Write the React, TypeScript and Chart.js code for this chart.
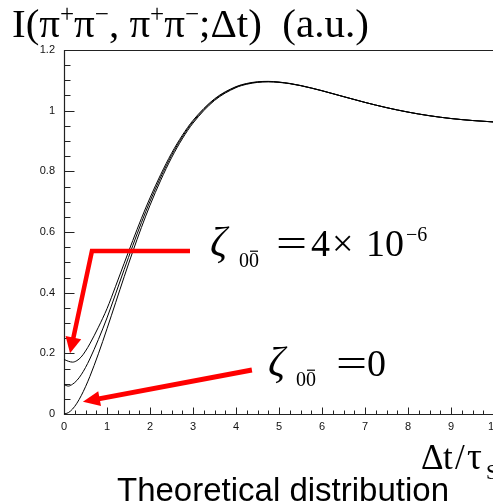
import { useEffect, useRef } from "react";
import { Chart, registerables } from "chart.js";

Chart.register(...registerables);

// Δt/τS sample points
const T = [0, 0.1, 0.2, 0.3, 0.4, 0.5, 0.6, 0.8, 1.0, 1.2, 1.4, 1.6, 1.8, 2.0, 2.25, 2.5, 2.75, 3.0, 3.5, 4.0, 4.25, 4.5, 4.75, 5.0, 5.25, 5.5, 6.0, 6.5, 7.0, 7.5, 8.0, 8.5, 9.0, 9.5, 10];
// ζ = 0 curve
const ZETA_ZERO = [0, 0.0043, 0.0165, 0.0355, 0.0603, 0.0898, 0.1231, 0.1985, 0.2811, 0.3668, 0.4526, 0.5358, 0.6148, 0.6882, 0.7709, 0.8445, 0.907, 0.9589, 1.0336, 1.076, 1.0871, 1.0932, 1.095, 1.0932, 1.0889, 1.0824, 1.0655, 1.0462, 1.0272, 1.01, 0.9953, 0.9833, 0.9741, 0.9675, 0.9627];
// intermediate ζ curve
const ZETA_MID = [0.097, 0.092, 0.0983, 0.1107, 0.1293, 0.1532, 0.1813, 0.2457, 0.3168, 0.396, 0.4765, 0.5554, 0.6308, 0.7013, 0.7811, 0.8525, 0.9132, 0.9637, 1.0365, 1.0778, 1.0885, 1.0943, 1.0958, 1.0939, 1.0894, 1.0828, 1.0657, 1.0463, 1.0272, 1.01, 0.9953, 0.9833, 0.9741, 0.9675, 0.9627];
// ζ = 4×10⁻⁶ curve
const ZETA_TOP = [0.18, 0.174, 0.171, 0.176, 0.188, 0.2075, 0.2312, 0.2861, 0.3473, 0.421, 0.497, 0.5721, 0.6446, 0.7126, 0.7899, 0.8593, 0.9185, 0.9679, 1.039, 1.0793, 1.0897, 1.0952, 1.0966, 1.0944, 1.0898, 1.0831, 1.066, 1.0464, 1.0273, 1.01, 0.9953, 0.9833, 0.9741, 0.9675, 0.9627];

const X_MIN = 0;
const X_MAX = 10;
const X_MAJOR = 1;
const X_MINOR = 0.25;
const Y_MIN = 0;
const Y_MAX = 1.2;
const Y_MAJOR = 0.2;
const Y_MINOR = 0.05;

// annotation arrows in data coordinates
const ARROW_TOP = [[2.93, 0.537], [0.65, 0.537], [0.14, 0.2]];
const ARROW_ZERO = [[4.37, 0.145], [0.44, 0.04]];

const SERIF = "'Liberation Serif', 'Times New Roman', serif";
const SANS = "'Liberation Sans', Arial, sans-serif";

type Run = { t: string; x?: number; size: number; dy?: number; italic?: boolean; overline?: boolean; sx?: number };

function drawRuns(ctx: CanvasRenderingContext2D, x0: number, base: number, runs: Run[], family: string) {
  let x = x0;
  for (const r of runs) {
    if (r.x !== undefined) x = r.x;
    ctx.font = `${r.italic ? "italic " : ""}${r.size}px ${family}`;
    const y = base + (r.dy || 0);
    const w = ctx.measureText(r.t).width * (r.sx || 1);
    if (r.sx) {
      ctx.save();
      ctx.translate(x, y);
      ctx.scale(r.sx, 1);
      ctx.fillText(r.t, 0, 0);
      ctx.restore();
    } else {
      ctx.fillText(r.t, x, y);
    }
    if (r.overline) {
      ctx.fillRect(x + 1, y - r.size * 0.82, w - 2, Math.max(1, r.size * 0.06));
    }
    x += w;
  }
}

function arrow(ctx: CanvasRenderingContext2D, pts: number[][], lw: number, L: number, W: number) {
  const n = pts.length;
  const [fx, fy] = pts[n - 2];
  const [tx, ty] = pts[n - 1];
  const ang = Math.atan2(ty - fy, tx - fx);
  const bx = tx - L * Math.cos(ang);
  const by = ty - L * Math.sin(ang);
  ctx.lineWidth = lw;
  ctx.lineJoin = "miter";
  ctx.lineCap = "butt";
  ctx.beginPath();
  ctx.moveTo(pts[0][0], pts[0][1]);
  for (let i = 1; i < n - 1; i++) ctx.lineTo(pts[i][0], pts[i][1]);
  ctx.lineTo(bx + Math.cos(ang), by + Math.sin(ang));
  ctx.stroke();
  ctx.beginPath();
  ctx.moveTo(tx, ty);
  ctx.lineTo(bx + W * Math.sin(ang), by - W * Math.cos(ang));
  ctx.lineTo(bx - W * Math.sin(ang), by + W * Math.cos(ang));
  ctx.closePath();
  ctx.fill();
}

const decor = {
  id: "decor",
  beforeDatasetsDraw(chart: any) {
    const { ctx, chartArea: a, scales } = chart;
    const xs = scales.x;
    const ys = scales.y;
    ctx.save();
    ctx.strokeStyle = "#222";
    ctx.lineWidth = 1.2;
    const L = Math.round(a.left) + 0.5;
    const R = Math.round(a.right) + 0.5;
    const Tp = Math.round(a.top) + 0.5;
    const B = Math.round(a.bottom) + 0.5;
    ctx.beginPath();
    ctx.moveTo(L, Tp);
    ctx.lineTo(R, Tp);
    ctx.lineTo(R, B);
    ctx.lineTo(L, B);
    ctx.closePath();
    ctx.stroke();
    ctx.lineWidth = 1;
    ctx.beginPath();
    const ny = Math.round((Y_MAX - Y_MIN) / Y_MINOR);
    const per = Math.round(Y_MAJOR / Y_MINOR);
    for (let k = 0; k <= ny; k++) {
      const y = Math.round(ys.getPixelForValue(Y_MIN + k * Y_MINOR)) + 0.5;
      const len = k % per === 0 ? 10 : 6;
      ctx.moveTo(L, y);
      ctx.lineTo(L + len, y);
    }
    const nx = Math.round((X_MAX - X_MIN) / X_MINOR);
    const perx = Math.round(X_MAJOR / X_MINOR);
    for (let k = 0; k <= nx; k++) {
      const x = Math.round(xs.getPixelForValue(X_MIN + k * X_MINOR)) + 0.5;
      const len = k % perx === 0 ? 7 : 4;
      ctx.moveTo(x, B);
      ctx.lineTo(x, B - len);
    }
    ctx.stroke();
    ctx.restore();
  },
  afterDraw(chart: any) {
    const { ctx, scales } = chart;
    const xs = scales.x;
    const ys = scales.y;
    const px = (p: number[]) => [xs.getPixelForValue(p[0]), ys.getPixelForValue(p[1])];
    ctx.save();
    ctx.fillStyle = "#ff0000";
    ctx.strokeStyle = "#ff0000";
    arrow(ctx, ARROW_TOP.map(px), 4.5, 16, 8);
    arrow(ctx, ARROW_ZERO.map(px), 5, 17, 7.5);

    ctx.fillStyle = "#000";
    ctx.textBaseline = "alphabetic";
    ctx.textAlign = "left";
    const S = 41;
    const sup = Math.round(S * 0.6);
    // title
    drawRuns(ctx, 12, 37, [
      { t: "I(π", size: S },
      { t: "+", size: sup, dy: -S * 0.36 },
      { t: "π", size: S },
      { t: "−", size: sup, dy: -S * 0.36 },
      { t: ", π", size: S },
      { t: "+", size: sup, dy: -S * 0.36 },
      { t: "π", size: S },
      { t: "−", size: sup, dy: -S * 0.36 },
      { t: ";Δt)", size: S },
      { t: "  (a.u.)", size: S },
    ], SERIF);

    // ζ = 4×10⁻⁶
    drawRuns(ctx, 212, 256, [
      { t: "ζ", size: 42, italic: true, x: 210 },
      { t: "0", size: 20, dy: 11, x: 239 },
      { t: "0", size: 20, dy: 11, overline: true },
      { t: "=", size: 38, sx: 1.45, x: 276 },
      { t: "4", size: 38, x: 311 },
      { t: "×", size: 38, x: 332 },
      { t: "10", size: 38, x: 366 },
      { t: "−6", size: 20, dy: -15, x: 406 },
    ], SERIF);

    // ζ = 0
    drawRuns(ctx, 270, 376, [
      { t: "ζ", size: 42, italic: true, x: 268 },
      { t: "0", size: 20, dy: 10, x: 296 },
      { t: "0", size: 20, dy: 10, overline: true },
      { t: "=", size: 38, sx: 1.45, x: 336 },
      { t: "0", size: 38, x: 367 },
    ], SERIF);

    // x-axis label Δt/τS
    drawRuns(ctx, 423, 469, [
      { t: "Δ", size: 35, x: 421 },
      { t: "t", size: 35, x: 443 },
      { t: "/", size: 35, x: 455 },
      { t: "τ", size: 37, x: 467 },
      { t: "S", size: 22, dy: 10, x: 486 },
    ], SERIF);

    // caption
    ctx.font = `33px ${SANS}`;
    ctx.textAlign = "center";
    ctx.fillText("Theoretical distribution", 283, 501);
    ctx.restore();
  },
};

export default function App() {
  const ref = useRef<HTMLCanvasElement | null>(null);
  useEffect(() => {
    if (!ref.current) return;
    const mk = (ys: number[]) => T.map((t, i) => ({ x: t, y: ys[i] }));
    const ds = (ys: number[]) => ({
      data: mk(ys),
      borderColor: "#000",
      borderWidth: 1,
      pointRadius: 0,
      fill: false,
      cubicInterpolationMode: "monotone" as const,
    });
    const chart = new Chart(ref.current, {
      type: "line",
      data: { datasets: [ds(ZETA_ZERO), ds(ZETA_MID), ds(ZETA_TOP)] },
      options: {
        animation: false,
        responsive: true,
        maintainAspectRatio: false,
        events: [],
        layout: { padding: { top: 50, right: 16, left: 0, bottom: 0 } },
        plugins: { legend: { display: false }, tooltip: { enabled: false }, title: { display: false } },
        scales: {
          x: {
            type: "linear",
            min: X_MIN,
            max: X_MAX,
            afterFit: (s: any) => { s.height = 90; },
            grid: { display: false, drawTicks: false },
            border: { display: false },
            ticks: {
              stepSize: X_MAJOR,
              padding: 6,
              maxRotation: 0,
              autoSkip: false,
              color: "#111",
              font: { family: SANS, size: 11 },
              callback: (v: any) => String(Math.round(Number(v) * 10) / 10),
            },
          },
          y: {
            type: "linear",
            min: Y_MIN,
            max: Y_MAX,
            afterFit: (s: any) => { s.width = 64; },
            grid: { display: false, drawTicks: false },
            border: { display: false },
            ticks: {
              stepSize: Y_MAJOR,
              padding: 9,
              color: "#111",
              font: { family: SANS, size: 11 },
              callback: (v: any) => String(Math.round(Number(v) * 10) / 10),
            },
          },
        },
      },
      plugins: [decor],
    });
    return () => chart.destroy();
  }, []);
  return (
    <div style={{ position: "absolute", left: 0, top: 0, width: 493, height: 504, overflow: "hidden", background: "#fff" }}>
      <div style={{ position: "relative", width: 510, height: 504 }}>
        <canvas ref={ref} />
      </div>
    </div>
  );
}
